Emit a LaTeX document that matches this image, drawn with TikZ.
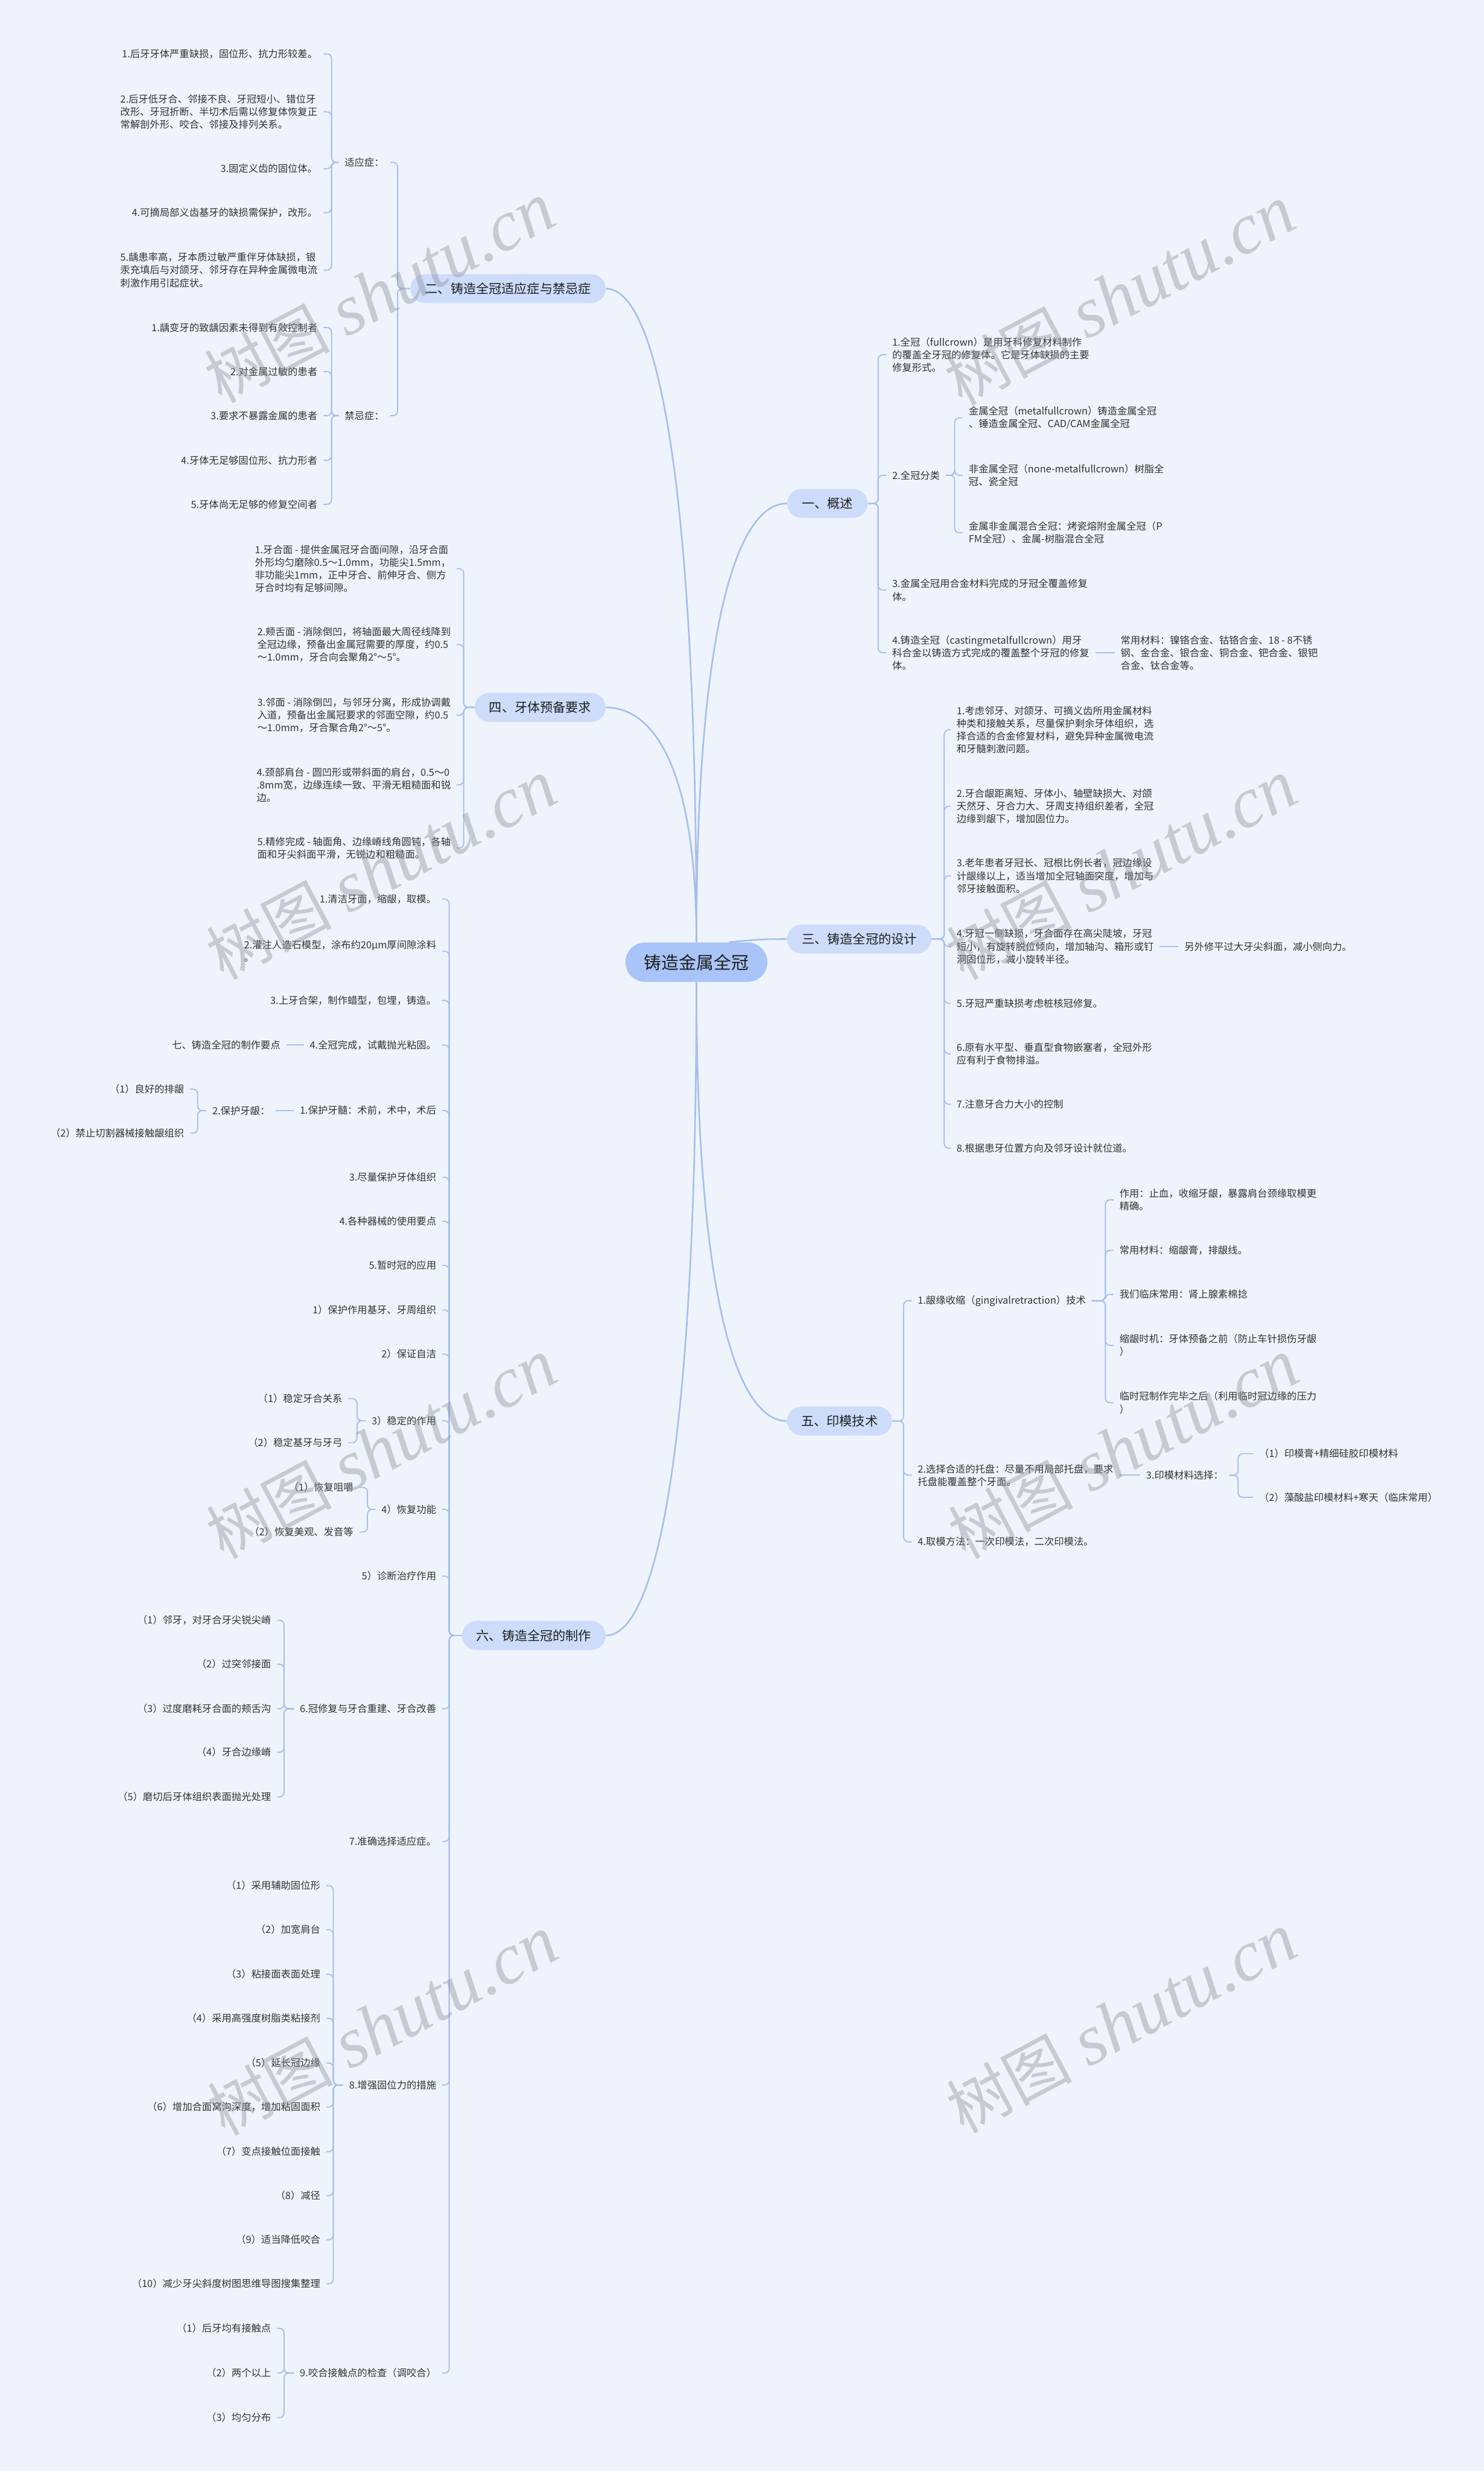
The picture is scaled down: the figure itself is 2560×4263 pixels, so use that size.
\documentclass[tikz,border=0pt]{standalone}
\usepackage{fontspec}
\setmainfont{Noto Sans CJK SC}
\newfontfamily\wmlat{Liberation Serif}
\usetikzlibrary{calc}
\definecolor{bgc}{RGB}{239,244,252}
\definecolor{secfill}{RGB}{204,220,250}
\definecolor{rootfill}{RGB}{168,196,248}
\definecolor{linec}{RGB}{166,192,238}
\definecolor{tc}{RGB}{51,51,51}
\definecolor{tcd}{RGB}{30,30,30}
\definecolor{wmc}{RGB}{140,145,155}
\newcommand\lk[3]{\draw[link] (#1) -- (#1 -| #2,0) -- (#3 -| #2,0) -- (#3);}
\newcommand\rl[2]{\draw[rlink] (#1) .. controls ($(#1)!0.73!(#1|-#2)$) and ($(#2)!0.54!(#2-|#1)$) .. (#2);}
\begin{document}
\begin{tikzpicture}[x=0.5pt,y=-0.5pt,
  txt/.style={font=\fontsize{8.5}{11}\selectfont, text=tc, inner xsep=5pt, inner ysep=1pt, align=left},
  lt/.style={txt, anchor=east},
  rt/.style={txt, anchor=west},
  sec/.style={fill=secfill, rounded corners=12.5pt, minimum height=25pt, inner sep=0pt, font=\fontsize{11}{13}\selectfont, text=tcd},
  rootn/.style={fill=rootfill, rounded corners=17pt, minimum height=34pt, minimum width=122.5pt, inner sep=0pt, font=\fontsize{15}{18}\selectfont, text=tcd},
  link/.style={draw=linec, line width=1pt, rounded corners=4pt},
  rlink/.style={draw=linec, line width=1.4pt},
  wm/.style={rotate=28, text=wmc, text opacity=0.42, inner sep=0pt}
]
\fill[bgc] (0,0) rectangle (2560,4263);
\useasboundingbox (0,0) rectangle (2560,4263);

% ---------- root and sections
\node[rootn] (root) at (1201.5,1660) {铸造金属全冠};
\node[sec, minimum width=168.5pt] (s2) at (876.5,498) {二、铸造全冠适应症与禁忌症};
\node[sec, minimum width=113pt] (s4) at (932,1220.5) {四、牙体预备要求};
\node[sec, minimum width=124pt] (s6) at (921,2821.5) {六、铸造全冠的制作};
\node[sec, minimum width=69.5pt] (s1) at (1427.5,868.5) {一、概述};
\node[sec, minimum width=124.5pt] (s3) at (1482.5,1620) {三、铸造全冠的设计};
\node[sec, minimum width=90.5pt] (s5) at (1448.5,2451.5) {五、印模技术};

\rl{root.north}{s2.east}
\rl{root.north}{s4.east}
\rl{root.north}{s1.west}
\rl{root.south}{s5.west}
\rl{root.south}{s6.east}
\coordinate (r3) at ($(root.north)+(56,0)$);
\draw[rlink] (r3) .. controls +(40,-4) and +(-45,0) .. (s3.west);

% ---------- section 2
\node[lt] (n2a) at (673,280) {适应症：};
\node[lt] (n2b) at (673,717) {禁忌症：};
\lk{s2.west}{686}{n2a.east}
\lk{s2.west}{686}{n2b.east}
\node[lt] (n2a1) at (558,93) {1.后牙牙体严重缺损，固位形、抗力形较差。};
\node[lt] (n2a2) at (558,193) {2.后牙低牙合、邻接不良、牙冠短小、错位牙\\改形、牙冠折断、半切术后需以修复体恢复正\\常解剖外形、咬合、邻接及排列关系。};
\node[lt] (n2a3) at (558,291) {3.固定义齿的固位体。};
\node[lt] (n2a4) at (558,367) {4.可摘局部义齿基牙的缺损需保护，改形。};
\node[lt] (n2a5) at (558,466) {5.龋患率高，牙本质过敏严重伴牙体缺损，银\\汞充填后与对颌牙、邻牙存在异种金属微电流\\刺激作用引起症状。};
\foreach \c in {n2a1,n2a2,n2a3,n2a4,n2a5} {\lk{n2a.west}{572}{\c.east}}
\node[lt] (n2b1) at (558,565) {1.龋变牙的致龋因素未得到有效控制者};
\node[lt] (n2b2) at (558,641) {2.对金属过敏的患者};
\node[lt] (n2b3) at (558,717) {3.要求不暴露金属的患者};
\node[lt] (n2b4) at (558,794) {4.牙体无足够固位形、抗力形者};
\node[lt] (n2b5) at (558,870) {5.牙体尚无足够的修复空间者};
\foreach \c in {n2b1,n2b2,n2b3,n2b4,n2b5} {\lk{n2b.west}{572}{\c.east}}

% ---------- section 4
\node[lt] (n4a) at (788,981) {1.牙合面 - 提供金属冠牙合面间隙，沿牙合面\\外形均匀磨除0.5～1.0mm，功能尖1.5mm，\\非功能尖1mm，正中牙合、前伸牙合、侧方\\牙合时均有足够间隙。};
\node[lt] (n4b) at (788,1112) {2.颊舌面 - 消除倒凹，将轴面最大周径线降到\\全冠边缘，预备出金属冠需要的厚度，约0.5\\～1.0mm，牙合向会聚角2°～5°。};
\node[lt] (n4c) at (788,1234) {3.邻面 - 消除倒凹，与邻牙分离，形成协调戴\\入道，预备出金属冠要求的邻面空隙，约0.5\\～1.0mm，牙合聚合角2°～5°。};
\node[lt] (n4d) at (788,1354) {4.颈部肩台 - 圆凹形或带斜面的肩台，0.5～0\\.8mm宽，边缘连续一致、平滑无粗糙面和锐\\边。};
\node[lt] (n4e) at (788,1463) {5.精修完成 - 轴面角、边缘嵴线角圆钝，各轴\\面和牙尖斜面平滑，无锐边和粗糙面。};
\foreach \c in {n4a,n4b,n4c,n4d,n4e} {\lk{s4.west}{800}{\c.east}}

% ---------- section 1
\node[rt] (n1a) at (1529,612) {1.全冠（fullcrown）是用牙科修复材料制作\\的覆盖全牙冠的修复体。它是牙体缺损的主要\\修复形式。};
\node[rt] (n1b) at (1529,820) {2.全冠分类};
\node[rt] (n1c) at (1529,1018) {3.金属全冠用合金材料完成的牙冠全覆盖修复\\体。};
\node[rt] (n1d) at (1529,1126) {4.铸造全冠（castingmetalfullcrown）用牙\\科合金以铸造方式完成的覆盖整个牙冠的修复\\体。};
\foreach \c in {n1a,n1b,n1c,n1d} {\lk{s1.east}{1515}{\c.west}}
\node[rt] (n1b1) at (1661,721) {金属全冠（metalfullcrown）铸造金属全冠\\、锤造金属全冠、CAD/CAM金属全冠};
\node[rt] (n1b2) at (1661,820) {非金属全冠（none-metalfullcrown）树脂全\\冠、瓷全冠};
\node[rt] (n1b3) at (1661,919) {金属非金属混合全冠：烤瓷熔附金属全冠（P\\FM全冠）、金属-树脂混合全冠};
\foreach \c in {n1b1,n1b2,n1b3} {\lk{n1b.east}{1647}{\c.west}}
\node[rt] (n1d1) at (1923,1126) {常用材料：镍铬合金、钴铬合金、18 - 8不锈\\钢、金合金、银合金、铜合金、钯合金、银钯\\合金、钛合金等。};
\draw[link] (n1d.east) -- (n1d1.west);

% ---------- section 3
\node[rt] (n3a) at (1640,1259) {1.考虑邻牙、对颌牙、可摘义齿所用金属材料\\种类和接触关系，尽量保护剩余牙体组织，选\\择合适的合金修复材料，避免异种金属微电流\\和牙髓刺激问题。};
\node[rt] (n3b) at (1640,1391) {2.牙合龈距离短、牙体小、轴壁缺损大、对颌\\天然牙、牙合力大、牙周支持组织差者，全冠\\边缘到龈下，增加固位力。};
\node[rt] (n3c) at (1640,1511) {3.老年患者牙冠长、冠根比例长者，冠边缘设\\计龈缘以上，适当增加全冠轴面突度，增加与\\邻牙接触面积。};
\node[rt] (n3d) at (1640,1633) {4.牙冠一侧缺损，牙合面存在高尖陡坡，牙冠\\短小，有旋转脱位倾向，增加轴沟、箱形或钉\\洞固位形，减小旋转半径。};
\node[rt] (n3e) at (1640,1731) {5.牙冠严重缺损考虑桩核冠修复。};
\node[rt] (n3f) at (1640,1818) {6.原有水平型、垂直型食物嵌塞者，全冠外形\\应有利于食物排溢。};
\node[rt] (n3g) at (1640,1905) {7.注意牙合力大小的控制};
\node[rt] (n3h) at (1640,1981) {8.根据患牙位置方向及邻牙设计就位道。};
\foreach \c in {n3a,n3b,n3c,n3d,n3e,n3f,n3g,n3h} {\lk{s3.east}{1629}{\c.west}}
\node[rt] (n3d1) at (2033,1633) {另外修平过大牙尖斜面，减小侧向力。};
\draw[link] (n3d.east) -- (n3d1.west);

% ---------- section 5
\node[rt] (n5a) at (1573,2244) {1.龈缘收缩（gingivalretraction）技术};
\node[rt] (n5b) at (1573,2545) {2.选择合适的托盘：尽量不用局部托盘，要求\\托盘能覆盖整个牙面。};
\node[rt] (n5c) at (1573,2660) {4.取模方法：一次印模法，二次印模法。};
\foreach \c in {n5a,n5b,n5c} {\lk{s5.east}{1559}{\c.west}}
\node[rt] (n5a1) at (1921,2070) {作用：止血，收缩牙龈，暴露肩台颈缘取模更\\精确。};
\node[rt] (n5a2) at (1921,2157) {常用材料：缩龈膏，排龈线。};
\node[rt] (n5a3) at (1921,2233) {我们临床常用：肾上腺素棉捻};
\node[rt] (n5a4) at (1921,2321) {缩龈时机：牙体预备之前（防止车针损伤牙龈\\）};
\node[rt] (n5a5) at (1921,2420) {临时冠制作完毕之后（利用临时冠边缘的压力\\）};
\foreach \c in {n5a1,n5a2,n5a3,n5a4,n5a5} {\lk{n5a.east}{1907}{\c.west}}
\node[rt] (n5b1) at (1967,2545) {3.印模材料选择：};
\draw[link] (n5b.east) -- (n5b1.west);
\node[rt] (n5b1a) at (2162,2508) {（1）印模膏+精细硅胶印模材料};
\node[rt] (n5b1b) at (2162,2583) {（2）藻酸盐印模材料+寒天（临床常用）};
\foreach \c in {n5b1a,n5b1b} {\lk{n5b1.east}{2136}{\c.west}}

% ---------- section 6
\node[lt] (c1) at (763,1551) {1.清洁牙面，缩龈，取模。};
\node[lt] (c2) at (763,1641) {2.灌注人造石模型，涂布约20μm厚间隙涂料\\。};
\node[lt] (c3) at (763,1726) {3.上牙合架，制作蜡型，包埋，铸造。};
\node[lt] (c4) at (763,1803) {4.全冠完成，试戴抛光粘固。};
\node[lt] (c5) at (763,1916) {1.保护牙髓：术前，术中，术后};
\node[lt] (c6) at (763,2031) {3.尽量保护牙体组织};
\node[lt] (c7) at (763,2107) {4.各种器械的使用要点};
\node[lt] (c8) at (763,2183) {5.暂时冠的应用};
\node[lt] (c9) at (763,2260) {1）保护作用基牙、牙周组织};
\node[lt] (c10) at (763,2336) {2）保证自洁};
\node[lt] (c11) at (763,2451) {3）稳定的作用};
\node[lt] (c12) at (763,2604) {4）恢复功能};
\node[lt] (c13) at (763,2719) {5）诊断治疗作用};
\node[lt] (c14) at (763,2948) {6.冠修复与牙合重建、牙合改善};
\node[lt] (c15) at (763,3177) {7.准确选择适应症。};
\node[lt] (c16) at (763,3597) {8.增强固位力的措施};
\node[lt] (c17) at (763,4094) {9.咬合接触点的检查（调咬合）};
\foreach \c in {c1,c2,c3,c4,c5,c6,c7,c8,c9,c10,c11,c12,c13,c14,c15,c16,c17} {\lk{s6.west}{775}{\c.east}}

\node[lt] (c4a) at (494,1803) {七、铸造全冠的制作要点};
\draw[link] (c4.west) -- (c4a.east);
\node[lt] (c5a) at (476,1916) {2.保护牙龈：};
\draw[link] (c5.west) -- (c5a.east);
\node[lt] (c5a1) at (328,1879) {（1）良好的排龈};
\node[lt] (c5a2) at (328,1955) {（2）禁止切割器械接触龈组织};
\foreach \c in {c5a1,c5a2} {\lk{c5a.west}{341}{\c.east}}

\node[lt] (c11a) at (601,2413) {（1）稳定牙合关系};
\node[lt] (c11b) at (601,2489) {（2）稳定基牙与牙弓};
\foreach \c in {c11a,c11b} {\lk{c11.west}{616}{\c.east}}
\node[lt] (c12a) at (620,2566) {（1）恢复咀嚼};
\node[lt] (c12b) at (620,2643) {（2）恢复美观、发音等};
\foreach \c in {c12a,c12b} {\lk{c12.west}{634}{\c.east}}

\node[lt] (c14a) at (478,2795) {（1）邻牙，对牙合牙尖锐尖嵴};
\node[lt] (c14b) at (478,2871) {（2）过突邻接面};
\node[lt] (c14c) at (478,2948) {（3）过度磨耗牙合面的颊舌沟};
\node[lt] (c14d) at (478,3023) {（4）牙合边缘嵴};
\node[lt] (c14e) at (478,3100) {（5）磨切后牙体组织表面抛光处理};
\foreach \c in {c14a,c14b,c14c,c14d,c14e} {\lk{c14.west}{490}{\c.east}}

\node[lt] (c16a) at (563,3253) {（1）采用辅助固位形};
\node[lt] (c16b) at (563,3329) {（2）加宽肩台};
\node[lt] (c16c) at (563,3406) {（3）粘接面表面处理};
\node[lt] (c16d) at (563,3482) {（4）采用高强度树脂类粘接剂};
\node[lt] (c16e) at (563,3559) {（5）延长冠边缘};
\node[lt] (c16f) at (563,3635) {（6）增加合面窝沟深度，增加粘固面积};
\node[lt] (c16g) at (563,3712) {（7）变点接触位面接触};
\node[lt] (c16h) at (563,3788) {（8）减径};
\node[lt] (c16i) at (563,3864) {（9）适当降低咬合};
\node[lt] (c16j) at (563,3940) {（10）减少牙尖斜度树图思维导图搜集整理};
\foreach \c in {c16a,c16b,c16c,c16d,c16e,c16f,c16g,c16h,c16i,c16j} {\lk{c16.west}{575}{\c.east}}

\node[lt] (c17a) at (478,4017) {（1）后牙均有接触点};
\node[lt] (c17b) at (478,4094) {（2）两个以上};
\node[lt] (c17c) at (478,4171) {（3）均匀分布};
\foreach \c in {c17a,c17b,c17c} {\lk{c17.west}{490}{\c.east}}

% ---------- watermarks
\newcommand\wmtext{{\fontsize{54}{54}\selectfont 树图}\hspace{14pt}{\wmlat\itshape\fontsize{62}{62}\selectfont shutu.cn}}
\node[wm] (wm1) at (655,505) {\wmtext};
\node[wm] (wm2) at (1932,510) {\wmtext};
\node[wm] (wm3) at (658,1500) {\wmtext};
\node[wm] (wm4) at (1935,1500) {\wmtext};
\node[wm] (wm5) at (658,2500) {\wmtext};
\node[wm] (wm6) at (1938,2500) {\wmtext};
\node[wm] (wm7) at (660,3495) {\wmtext};
\node[wm] (wm8) at (1935,3490) {\wmtext};
\end{tikzpicture}
\end{document}
